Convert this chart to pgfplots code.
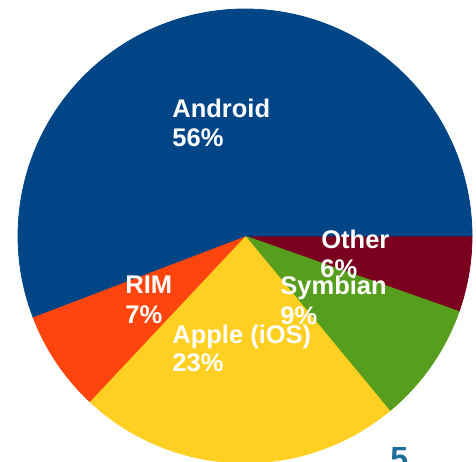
\documentclass[border=0pt]{standalone}
\usepackage{pgfplots}
\pgfplotsset{compat=1.18}
\usepackage{fontspec}
\setmainfont{Liberation Sans}

\definecolor{android}{RGB}{0,70,135}
\definecolor{rim}{RGB}{255,69,14}
\definecolor{apple}{RGB}{255,208,34}
\definecolor{symbian}{RGB}{88,158,30}
\definecolor{other}{RGB}{122,0,32}
\definecolor{pagenum}{RGB}{30,110,156}

\tikzset{lab/.style={text=white, inner sep=0pt, anchor=base west,
    font=\fontsize{12.75}{14.5}\selectfont\bfseries}}

\begin{document}
\begin{tikzpicture}
\begin{axis}[
    scale only axis,
    width=238pt, height=230.5pt,
    xmin=-1.0793, xmax=1.0176,
    ymin=-0.9912, ymax=1.0396,
    axis line style={draw=none},
    xtick=\empty, ytick=\empty,
    clip=true,
  ]
% shares in %: Other 5.4, Symbian 8.6, Apple 23.0, RIM 7.2, Android 55.8
% clockwise from east, 3.6 degrees per percent
\addplot[fill=other, draw=other, domain=-19.44:0, samples=20]
  ({cos(x)},{sin(x)}) -- (axis cs:0,0) -- cycle;
\addplot[fill=symbian, draw=symbian, domain=-50.4:-19.44, samples=25]
  ({cos(x)},{sin(x)}) -- (axis cs:0,0) -- cycle;
\addplot[fill=apple, draw=apple, domain=-133.2:-50.4, samples=60]
  ({cos(x)},{sin(x)}) -- (axis cs:0,0) -- cycle;
\addplot[fill=rim, draw=rim, domain=-159.12:-133.2, samples=25]
  ({cos(x)},{sin(x)}) -- (axis cs:0,0) -- cycle;
\addplot[fill=android, draw=android, domain=-360:-159.12, samples=120]
  ({cos(x)},{sin(x)}) -- (axis cs:0,0) -- cycle;

\node[lab] at (axis cs:-0.3216,0.5198) {Android};
\node[lab] at (axis cs:-0.3216,0.3921) {56\%};
\node[lab] at (axis cs:0.3348,-0.0529) {Other};
\node[lab] at (axis cs:0.3304,-0.1850) {6\%};
\node[lab] at (axis cs:0.1542,-0.2599) {Symbian};
\node[lab] at (axis cs:0.1542,-0.3877) {9\%};
\node[lab] at (axis cs:-0.5286,-0.2555) {RIM};
\node[lab] at (axis cs:-0.5286,-0.3833) {7\%};
\node[lab] at (axis cs:-0.3216,-0.4714) {Apple (iOS)};
\node[lab] at (axis cs:-0.3216,-0.5991) {23\%};
\node[overlay, anchor=north west, inner sep=0pt, text=pagenum,
  font=\fontsize{16}{16}\selectfont\bfseries] at (axis cs:0.6388,-0.9295) {5};
\end{axis}
\end{tikzpicture}
\end{document}
